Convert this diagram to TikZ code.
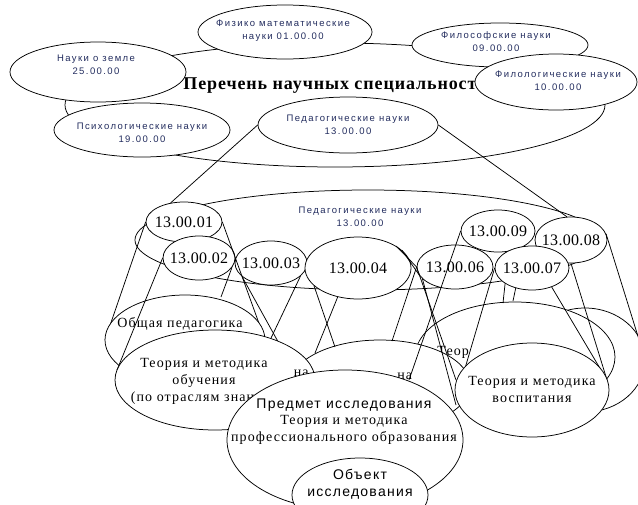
\documentclass[tikz,border=0pt]{standalone}
\usepackage{fontspec}
\setmainfont{Liberation Serif}
\newfontfamily\smallsans[LetterSpace=15]{Liberation Sans}
\newfontfamily\midsans[LetterSpace=9]{Liberation Sans}
\newfontfamily\codeserif[LetterSpace=2]{Liberation Serif}
\newfontfamily\bodyserif[LetterSpace=8]{Liberation Serif}
\newfontfamily\titleserif[LetterSpace=5]{Liberation Serif}
\usetikzlibrary{shapes.geometric}
\definecolor{lblue}{RGB}{35,45,95}
\begin{document}
\begin{tikzpicture}[x=1pt,y=-1pt,line width=0.75pt,
  ell/.style n args={2}{draw,ellipse,fill=white,inner sep=0pt,minimum width=#1pt,minimum height=#2pt},
  stxt/.style={text=lblue,align=center,font=\smallsans\fontsize{9.5}{13}\selectfont,inner sep=0pt},
  ctxt/.style={font=\codeserif\fontsize{16}{18}\selectfont,inner sep=0pt},
  btxt/.style={align=center,font=\bodyserif\fontsize{14}{17}\selectfont,inner sep=0pt},
  mtxt/.style={align=center,font=\midsans\fontsize{14}{17}\selectfont,inner sep=0pt}]
\useasboundingbox (0,0) rectangle (638,504);
% free ends of connectors
\coordinate (em1) at (335,347);
\coordinate (em2) at (315,353);
\coordinate (em3) at (392,341);
\coordinate (em4) at (409,380);
\coordinate (ob1) at (105,340);
\coordinate (ob2) at (265,340);
\coordinate (ob3) at (221,297);
\coordinate (et1) at (117,370);
\coordinate (ep1) at (297,376);
\coordinate (ep2) at (234,416);
\coordinate (er1) at (503,303);
\coordinate (er2) at (513,301);
\coordinate (ev1) at (456,380);
\coordinate (ev2) at (456,405);
\coordinate (ev3) at (458,392);
\coordinate (ev4) at (601,370);
\coordinate (ev5) at (607,380);
% ---------- top level
\node[ell={540}{124}] (big) at (335,105) {};
\node[anchor=west,inner sep=0pt,font=\titleserif\bfseries\fontsize{18}{20}\selectfont] (title) at (183,85) {Перечень научных специальностей};
\node[ell={176}{60}] (zeml) at (98,72) {};
\node[stxt] (zemlt) at (96,65) {Науки о земле\\25.00.00};
\node[ell={174}{54}] (fiz) at (285,32) {};
\node[stxt] (fizt) at (283,31) {Физико математические\\науки 01.00.00};
\node[ell={176}{44}] (filos) at (500,45) {};
\node[stxt] (filost) at (496,42) {Философские науки\\09.00.00};
\node[ell={162}{56}] (filol) at (556,82) {};
\node[stxt] (filolt) at (558,81) {Филологические науки\\10.00.00};
\node[ell={176}{54}] (psih) at (142,130) {};
\node[stxt] (psiht) at (142,133) {Психологические науки\\19.00.00};
\node[ell={180}{56}] (ped1) at (348,125) {};
\node[stxt] (ped1t) at (348,125) {Педагогические науки\\13.00.00};
% ---------- second level
\node[ell={466}{100}] (ped2) at (368,240) {};
\node[stxt] (ped2t) at (360,217) {Педагогические науки\\13.00.00};
\node[ell={72}{46}] (c08) at (571,240) {};
\node[ctxt] (c08t) at (c08) {13.00.08};
\node[ell={74}{42}] (c09) at (498,231) {};
\node[ctxt] (c09t) at (c09) {13.00.09};
\node[ell={74}{44}] (c07) at (532,268) {};
\node[ctxt] (c07t) at (c07) {13.00.07};
\node[ell={76}{40}] (c01) at (184,222) {};
\node[ctxt] (c01t) at (c01) {13.00.01};
\node[ell={72}{44}] (c02) at (199,258) {};
\node[ctxt] (c02t) at (c02) {13.00.02};
\node[ell={72}{44}] (c03) at (271,263) {};
\node[ctxt] (c03t) at (c03) {13.00.03};
\node[ell={106}{62}] (c04) at (358,268) {};
\node[ctxt] (c04t) at (c04) {13.00.04};
\node[ell={76}{44}] (c06) at (455,267) {};
\node[ctxt] (c06t) at (c06) {13.00.06};
\draw (ped1.west) -- (c01.125);
\draw (ped1.east) -- (c08.100);
% ---------- third level (rear)
\node[ell={120}{104}] (r2) at (585,360) {};
\node[btxt,anchor=east] (r2t) at (608,353) {на};
\node[ell={200}{110}] (r1) at (515,357) {};
\node[btxt,anchor=west] (r1t) at (437,352) {Теор};
\node[ell={180}{90}] (mm) at (380,385) {};
% connectors behind the front ellipses
\draw (c01.west) -- (ob1);
\draw (c01.east) -- (ob2);
\draw (c02.-16) -- (ob3);
\draw (c04.-158) -- (em1);
\draw (c04.-125) -- (em2);
\draw (c04.30) -- (c06.west);
\draw (c04.22) -- (c06.195);
\draw (c06.west) -- (em3);
\draw (c07.-150) -- (er1);
\draw (c07.-129) -- (er2);
\draw (c08.10) -- (r2.east);
% Obshchaya pedagogika
\node[ell={160}{90}] (obsh) at (185,340) {};
\node[btxt] (obsht) at (180,324) {Общая педагогика};
\draw (c02.west) -- (et1);
\draw (c03.-155) -- (ep1);
\draw (c03.-24) -- (ep2);
\draw (c09.west) -- (em4);
\draw (c06.west) -- (ev1);
\draw (c06.200) -- (ev2);
\draw (c07.west) -- (ev3);
\draw (c07.-44) -- (ev4);
\draw (c08.-90) -- (ev5);
% Teoriya obucheniya
\node[ell={200}{100}] (teor) at (215,380) {};
\node[btxt] (teort) at (204,381) {Теория и методика\\обучения\\(по отраслям знаний)};
\node[btxt,anchor=east] (na1) at (309,373) {на};
\node[btxt,anchor=west] (na2) at (397,376) {на};
% Predmet, Obyekt
\node[ell={236}{140}] (pred) at (345,440) {};
\node[mtxt] (predt1) at (344,405) {Предмет исследования};
\node[btxt] (predt2) at (344,430) {Теория и методика\\профессионального образования};
\node[ell={136}{74}] (obj) at (360,495) {};
\node[mtxt] (objt) at (360,484) {Объект\\исследования};
% Vospitanie
\node[ell={154}{94}] (vosp) at (532,390) {};
\node[btxt] (vospt) at (532,389) {Теория и методика\\воспитания};
\end{tikzpicture}
\end{document}
